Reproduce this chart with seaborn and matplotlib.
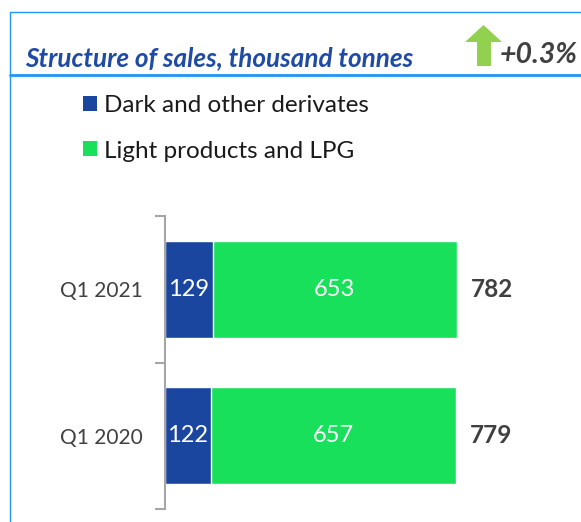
import matplotlib
matplotlib.use("Agg")
import matplotlib.pyplot as plt
import seaborn as sns
import pandas as pd
from matplotlib.lines import Line2D
from matplotlib.patches import Polygon, Patch

categories = ["Q1 2021", "Q1 2020"]
dark_values = [129, 122]
light_values = [653, 657]
series_names = ["Dark and other derivates", "Light products and LPG"]
title_text = "Structure of sales, thousand tonnes"
change_text = "+0.3%"

totals = [d + l for d, l in zip(dark_values, light_values)]
df = pd.DataFrame({"period": categories, "dark": dark_values,
                   "light": light_values, "total": totals})

DARK = "#1B46A0"
GREEN = "#19E05A"
TEXT = "#404040"
FONT = "Lato"

sns.set_style("white")
plt.rcParams["font.family"] = [FONT, "DejaVu Sans"]

W, H = 581, 522
fig = plt.figure(figsize=(W / 100, H / 100), dpi=100)

def fx(px):
    return px / W

def fy(py):
    return 1 - py / H

# axes placement (pixels)
ax_l, ax_r, ax_t, ax_b = 165, 566, 216, 509
ax = fig.add_axes([fx(ax_l), fy(ax_b), fx(ax_r - ax_l), (ax_b - ax_t) / H])

width = 97 / 146.5
sns.barplot(data=df, x="total", y="period", order=categories, color=GREEN,
            width=width, saturation=1, ax=ax, orient="h")
sns.barplot(data=df, x="dark", y="period", order=categories, color=DARK,
            width=width, saturation=1, ax=ax, orient="h")

px_per_unit = 291 / 782
ax.set_xlim(0, (ax_r - ax_l - 1) / px_per_unit)
ax.set_ylim(1.5, -0.5)
ax.set_xlabel("")
ax.set_ylabel("")
ax.set_xticks([])
for s in ["top", "right", "bottom"]:
    ax.spines[s].set_visible(False)
ax.spines["left"].set_color("#A6A6A6")
ax.spines["left"].set_linewidth(1.5)
ax.set_yticks([0, 1])
ax.set_yticklabels(categories, fontsize=15, color=TEXT)
ax.tick_params(axis="y", which="major", length=0, pad=16)
ax.set_yticks([-0.5, 0.5, 1.5], minor=True)
ax.tick_params(axis="y", which="minor", left=True, length=7, width=1.5,
               color="#A6A6A6", direction="out")

for i in range(len(categories)):
    d, l, t = dark_values[i], light_values[i], totals[i]
    ax.text(d / 2, i, f"{d}", color="white", ha="center", va="center", fontsize=17)
    ax.text(d + l / 2, i, f"{l}", color="white", ha="center", va="center", fontsize=17)
    ax.annotate(f"{t}", xy=(t, i), xytext=(10, 0), textcoords="offset points",
                ha="left", va="center", fontsize=17.5, fontweight="bold", color=TEXT)

# legend
handles = [Patch(facecolor=DARK, edgecolor="none"), Patch(facecolor=GREEN, edgecolor="none")]
leg = fig.legend(handles, series_names, loc="upper left",
                 bbox_to_anchor=(fx(73), fy(85)), frameon=False,
                 fontsize=17.5, handlelength=0.58, handleheight=0.58,
                 handletextpad=0.3, labelspacing=1.02, borderaxespad=0)
for t in leg.get_texts():
    t.set_color("#1a1a1a")

# frame lines
blue = "#2196F3"
fig.add_artist(Line2D([fx(10), 1], [fy(12), fy(12)], color=blue, lw=1, transform=fig.transFigure))
fig.add_artist(Line2D([fx(10), fx(10)], [fy(12), 0], color=blue, lw=1, transform=fig.transFigure))
fig.add_artist(Line2D([fx(10), 1], [fy(75), fy(75)], color=blue, lw=2, transform=fig.transFigure))

# title
fig.text(fx(25), fy(66), title_text, fontsize=18.8, fontweight="bold", fontstyle="italic",
         color="#1F4BA5", ha="left", va="baseline")

# arrow
arrow_pts = [(477, 66), (491, 66), (491, 42), (502, 42), (483.5, 25), (465, 42), (477, 42)]
fig.add_artist(Polygon([(fx(x), fy(y)) for x, y in arrow_pts], closed=True,
                       facecolor="#92D050", edgecolor="none", transform=fig.transFigure))
fig.text(fx(500), fy(63), change_text, fontsize=20.5, fontweight="bold", fontstyle="italic",
         color=TEXT, ha="left", va="baseline")

fig.savefig("out.png", dpi=100)
